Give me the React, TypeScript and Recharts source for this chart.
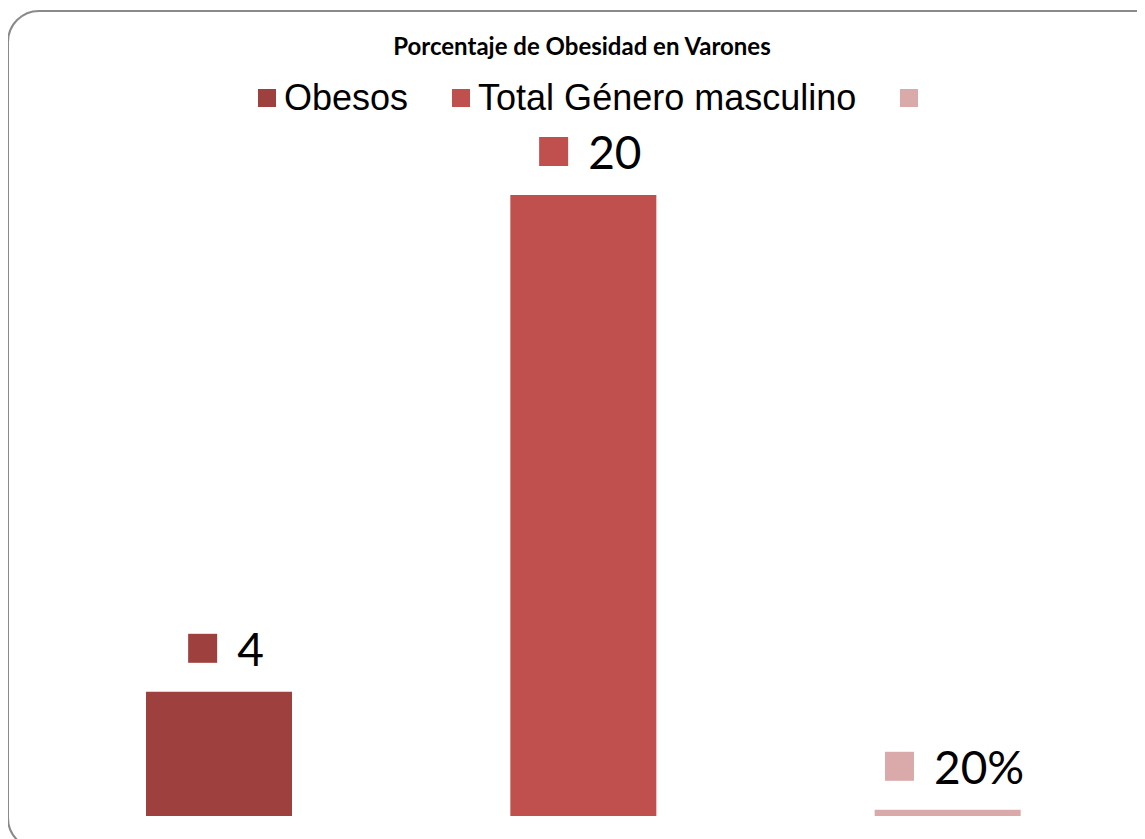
import React from 'react';
import { BarChart, Bar, XAxis, YAxis, Cell, Legend, LabelList } from 'recharts';

const categories = ['Obesos', 'Total Género masculino', ''];
const values = [4, 20, 0.2];
const valueLabels = ['4', '20', '20%'];
const colors = ['#9E403E', '#C0504D', '#DAAAAA'];

const data = categories.map((name, i) => ({ name, value: values[i], label: valueLabels[i] }));

const CHART_W = 1137;
const CHART_H = 831;

// rough text width for the Lato 46px data labels
const labelWidth = (s: string) => {
  let w = 0;
  for (const ch of s) w += ch === '%' ? 37 : 26.7;
  return w;
};

const ValueLabel = (props: any) => {
  const { x, y, width, value, index } = props;
  const cx = Number(x) + Number(width) / 2;
  const top = Number(y);
  const txt = String(value);
  const w = labelWidth(txt);
  const group = 29 + 20 + w;
  const left = cx + 7 - group / 2;
  return (
    <g>
      <rect x={left} y={top - 58} width={29} height={29} fill={colors[index]} />
      <text
        x={left + 49}
        y={top - 26}
        fontFamily="Lato, sans-serif"
        fontSize={46}
        fill="#000"
        textAnchor="start"
      >
        {txt}
      </text>
    </g>
  );
};

const renderLegend = () => (
  <div
    style={{
      display: 'flex',
      alignItems: 'center',
      fontFamily: '"Liberation Sans", Arial, sans-serif',
      fontSize: 36,
      lineHeight: '40px',
      color: '#000',
      whiteSpace: 'nowrap',
    }}
  >
    {categories.map((c, i) => (
      <div key={i} style={{ display: 'flex', alignItems: 'center', marginRight: 44 }}>
        <span
          style={{ display: 'inline-block', width: 18, height: 18, background: colors[i], marginRight: 8 }}
        />
        <span>{c}</span>
      </div>
    ))}
  </div>
);

export default function App() {
  return (
    <div style={{ position: 'relative', width: CHART_W, height: CHART_H, overflow: 'hidden' }}>
      <style>{`body{overflow:hidden}`}</style>
      <div
        style={{
          position: 'absolute',
          left: -1,
          top: 2,
          width: 1170,
          height: 840,
          border: '2px solid #8a8a8a',
          borderRadius: 32,
          boxSizing: 'border-box',
        }}
      />
      <div
        style={{
          position: 'absolute',
          left: 0,
          top: 23,
          width: 1148,
          textAlign: 'center',
          fontFamily: 'Lato, sans-serif',
          fontWeight: 700,
          fontSize: 24,
          lineHeight: '29px',
          color: '#000',
        }}
      >
        Porcentaje de Obesidad en Varones
      </div>
      <div style={{ position: 'absolute', left: 0, top: 0 }}>
        <BarChart
          width={CHART_W}
          height={CHART_H}
          data={data}
          margin={{ top: 187, right: 15, bottom: 23, left: 29 }}
        >
          <XAxis dataKey="name" hide />
          <YAxis hide domain={[0, 20]} />
          <Legend
            layout="horizontal"
            verticalAlign="middle"
            align="center"
            content={renderLegend}
            wrapperStyle={{ top: 70, left: 250, width: 'auto' }}
          />
          <Bar dataKey="value" barSize={146} isAnimationActive={false}>
            {data.map((d, i) => (
              <Cell key={d.label} fill={colors[i]} />
            ))}
            <LabelList dataKey="label" content={ValueLabel} />
          </Bar>
        </BarChart>
      </div>
    </div>
  );
}
